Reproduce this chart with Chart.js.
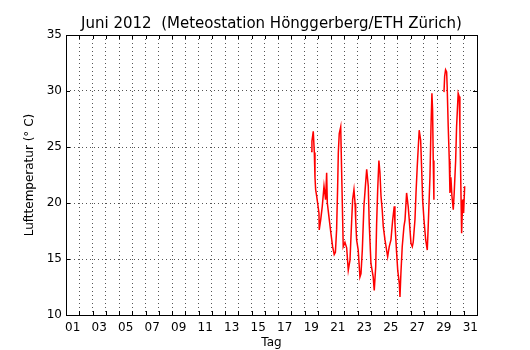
<!DOCTYPE html>
<html>
<head>
<meta charset="utf-8">
<script src="https://cdn.jsdelivr.net/npm/chart.js@4/dist/chart.umd.min.js"></script>
<style>
body{margin:0;background:#fff;}
#wrap{width:530px;height:350px;}
</style>
</head>
<body>
<div id="wrap"><canvas id="tempChart"></canvas></div>
<script>
// Tag (Tag des Monats, Bruchteil) und Lufttemperatur in Grad C
const tage = [19.48,19.55,19.65,19.73,19.78,19.83,19.91,20.0,20.08,20.10,20.21,20.33,20.46,20.58,20.66,20.71,20.86,20.98,
	21.11,21.23,21.32,21.41,21.49,21.54,21.61,21.72,21.76,21.84,21.91,22.04,22.17,22.29,22.42,22.55,22.62,22.72,22.80,22.85,22.92,
	23.04,23.17,23.25,23.35,23.47,23.60,23.68,23.80,23.87,24.00,24.17,24.25,24.36,24.43,24.51,24.60,24.68,24.76,24.85,24.93,
	25.06,25.26,25.38,25.51,25.64,25.76,25.81,25.94,26.02,26.14,26.19,26.26,26.36,26.49,26.57,26.69,26.81,26.89,
	27.02,27.12,27.19,27.32,27.40,27.49,27.64,27.75,27.83,27.90,28.00,28.13,28.25,28.32,28.45,28.53,28.60,28.65,28.70,28.75,
	29.10,
	29.51,29.56,29.63,29.71,29.75,29.83,29.91,29.96,30.03,30.11,30.21,30.28,30.39,30.46,30.58,30.66,30.71,30.79,30.84,30.92,30.99,31.07];
const temperatur = [24.6,25.5,26.4,24.5,22.3,21.2,20.6,19.8,19.1,17.6,18.5,19.7,21.5,20.3,22.7,20.0,18.5,17.3,
	16.1,15.4,15.6,17.6,21.5,24.5,26.2,26.8,24.5,20.0,16.1,16.5,16.0,14.0,14.9,18.5,20.3,21.2,20.0,18.5,16.7,
	15.8,13.4,13.7,15.8,19.7,21.8,23.0,21.5,18.2,14.6,13.4,12.2,14.3,18.2,21.2,23.8,22.7,20.6,19.4,17.9,
	16.7,15.2,16.1,16.7,18.5,19.7,18.2,15.5,14.0,12.8,11.6,13.7,16.1,17.9,18.5,20.9,19.7,18.5,
	16.4,16.1,16.5,18.5,20.9,23.2,26.5,25.6,22.9,20.3,18.5,16.7,15.8,17.9,22.3,26.8,29.8,28.3,23.8,20.3,
	null,
	29.9,31.3,31.9,31.7,30.4,26.8,23.8,20.9,22.3,20.6,19.4,20.9,23.8,26.8,29.8,29.5,26.8,20.9,17.3,20.3,19.1,21.5];
const tagLabels = ['01','03','05','07','09','11','13','15','17','19','21','23','25','27','29','31'];
const titel = 'Juni 2012  (Meteostation Hönggerberg/ETH Zürich)';

const font = 'DejaVu Sans';

// Rahmen, Ticks nach innen und Titel ueber der Plotflaeche
const rahmen = {
	id:'rahmen',
	afterDraw(chart){
		const ctx = chart.ctx;
		const a = chart.chartArea;
		const xs = chart.scales.x, ys = chart.scales.y;
		ctx.save();
		ctx.strokeStyle = '#000';
		ctx.lineWidth = 1;
		ctx.beginPath();
		for(let d=2; d<32; d++){
			const px = Math.round(xs.getPixelForValue(d))+0.5;
			ctx.moveTo(px,a.bottom); ctx.lineTo(px,a.bottom-4);
			ctx.moveTo(px,a.top); ctx.lineTo(px,a.top+4);
		}
		for(let t=15; t<35; t+=5){
			const py = Math.round(ys.getPixelForValue(t))+0.5;
			ctx.moveTo(a.left,py); ctx.lineTo(a.left+4,py);
			ctx.moveTo(a.right,py); ctx.lineTo(a.right-4,py);
		}
		ctx.stroke();
		ctx.strokeRect(Math.round(a.left)+0.5, Math.round(a.top)+0.5, Math.round(a.right-a.left), Math.round(a.bottom-a.top));
		ctx.fillStyle = '#000';
		ctx.font = '15px "' + font + '"';
		ctx.textAlign = 'center';
		ctx.textBaseline = 'alphabetic';
		ctx.fillText(titel, (a.left+a.right)/2, 28);
		ctx.restore();
	}
};

new Chart(document.querySelector('#tempChart').getContext('2d'),{
	type:'line',
	data:{
		datasets:[{
			data:tage.map((d,i)=>({x:d,y:temperatur[i]})),
			borderColor:'#ff0000',
			borderWidth:1.5,
			pointRadius:0,
			tension:0,
			spanGaps:false
		}]
	},
	options:{
		responsive:true,
		maintainAspectRatio:false,
		animation:false,
		events:[],
		layout:{padding:{top:35,right:53,bottom:0,left:0}},
		plugins:{
			legend:{display:false},
			tooltip:{enabled:false},
			title:{display:false}
		},
		scales:{
			x:{
				type:'linear',
				min:1,
				max:32,
				afterBuildTicks(scale){
					const t = [];
					for(let v=1; v<=32; v+=0.5) t.push({value:v});
					scale.ticks = t;
				},
				afterFit(scale){ scale.height = 35; },
				ticks:{
					autoSkip:false,
					maxRotation:0,
					color:'#000',
					font:{family:font,size:12},
					padding:6,
					callback(v){
						if(v%2===1.5) return tagLabels[(v-1.5)/2];
						return '';
					}
				},
				grid:{
					drawTicks:false,
					lineWidth:1,
					color(c){
						const v = c.tick ? c.tick.value : 0;
						return (Number.isInteger(v) && v>1 && v<32) ? '#555' : 'rgba(0,0,0,0)';
					}
				},
				border:{display:false,dash:[1,3]},
				title:{display:true,text:'Tag',color:'#000',font:{family:font,size:12},padding:{top:0,bottom:0}}
			},
			y:{
				min:10,
				max:35,
				afterFit(scale){ scale.width = 66; },
				ticks:{
					stepSize:5,
					color:'#000',
					font:{family:font,size:12},
					padding:4
				},
				grid:{
					drawTicks:false,
					lineWidth:1,
					color(c){
						const v = c.tick ? c.tick.value : 0;
						return (v>10 && v<35) ? '#555' : 'rgba(0,0,0,0)';
					}
				},
				border:{display:false,dash:[1,3]},
				title:{display:true,text:'Lufttemperatur (° C)',color:'#000',font:{family:font,size:12},padding:{top:23,bottom:0}}
			}
		}
	},
	plugins:[rahmen]
});
</script>
</body>
</html>
